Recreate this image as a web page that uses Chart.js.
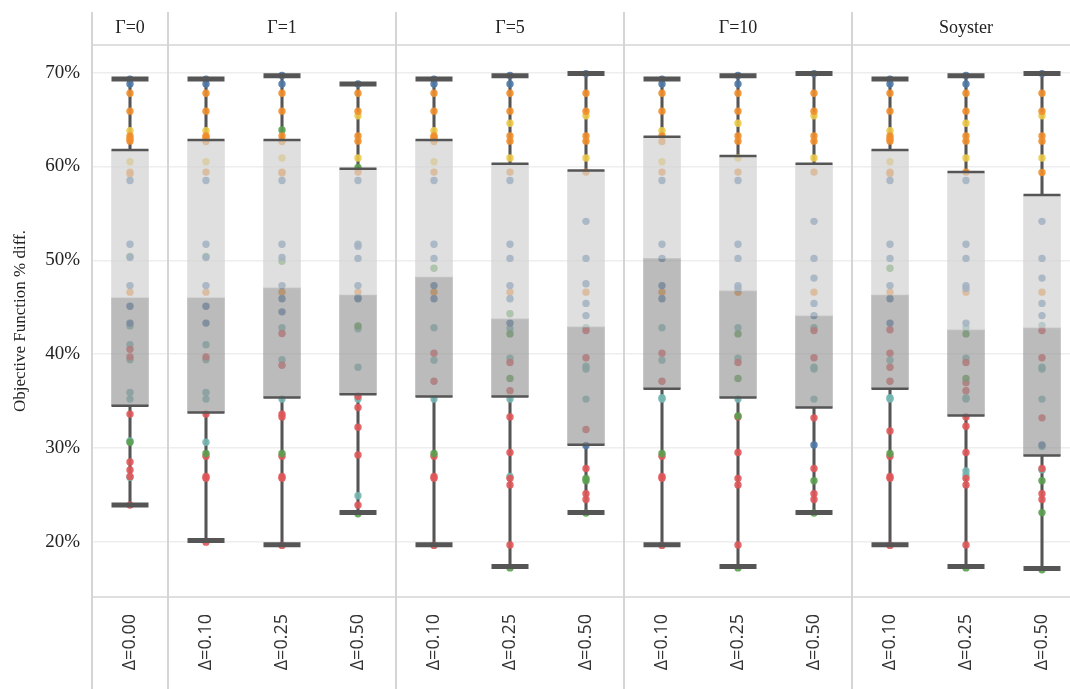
<!DOCTYPE html>
<html>
<head>
<meta charset="utf-8">
<script src="https://cdn.jsdelivr.net/npm/chart.js@4"></script>
<style>
  html, body { margin: 0; padding: 0; background: #fff; overflow: hidden; }
  canvas { display: block; }
</style>
</head>
<body>
<canvas id="myChart" width="1080" height="689"></canvas>
<script>
// panels and columns
const gammaLabels = ['Γ=0', 'Γ=1', 'Γ=5', 'Γ=10', 'Soyster'];
const gammaSpans = [1, 3, 3, 3, 3];
const deltaLabels = ['Δ=0.00', 'Δ=0.10', 'Δ=0.25', 'Δ=0.50', 'Δ=0.10', 'Δ=0.25', 'Δ=0.50',
    'Δ=0.10', 'Δ=0.25', 'Δ=0.50', 'Δ=0.10', 'Δ=0.25', 'Δ=0.50'];
const yTicks = [20, 30, 40, 50, 60, 70];

// box plot stats per column (%)
const whiskerHigh = [69.33, 69.33, 69.68, 68.8, 69.33, 69.68, 69.9, 69.33, 69.68, 69.9, 69.33, 69.68, 69.9];
const upperQuartile = [61.76, 62.82, 62.82, 59.77, 62.82, 60.3, 59.56, 63.18, 61.12, 60.3, 61.76, 59.41, 56.96];
const medians = [46.0, 46.0, 47.06, 46.3, 48.2, 43.75, 42.9, 50.2, 46.73, 44.07, 46.3, 42.58, 42.79];
const lowerQuartile = [34.5, 33.77, 35.36, 35.72, 35.47, 35.47, 30.32, 36.3, 35.36, 34.3, 36.3, 33.45, 29.18];
const whiskerLow = [23.92, 20.12, 19.66, 23.1, 19.66, 17.35, 23.1, 19.66, 17.35, 23.1, 19.66, 17.35, 17.14];

// individual instances, one list per column
const blueDots = [
    [69.3, 68.8, 58.5, 51.7, 50.3, 47.3, 45.1, 43.3],
    [69.3, 68.8, 58.5, 51.7, 50.3, 47.3, 45.1, 43.3],
    [69.7, 68.8, 58.5, 51.7, 50.3, 47.3, 45.9, 44.5],
    [68.8, 58.5, 51.7, 51.5, 50.2, 47.3, 46.0, 45.9],
    [69.3, 68.8, 58.5, 51.7, 50.2, 47.3, 45.9],
    [69.7, 68.8, 58.5, 51.7, 50.2, 47.3, 45.9, 43.3],
    [69.9, 54.15, 50.2, 47.5, 45.4, 44.1, 30.25],
    [69.3, 68.8, 58.5, 51.7, 50.2, 47.3, 45.9],
    [69.7, 68.8, 58.5, 51.7, 50.2, 47.3, 47.0],
    [69.9, 54.15, 50.2, 48.1, 45.4, 44.1, 30.3],
    [69.3, 68.8, 58.5, 51.7, 50.2, 47.3, 45.9, 43.3],
    [69.7, 68.8, 58.5, 51.7, 50.2, 47.3, 47.0, 43.3],
    [69.9, 54.15, 50.2, 48.1, 45.4, 44.1, 30.3],
];
const orangeDots = [
    [67.8, 65.9, 63.25, 62.95, 62.7, 59.4, 59.2, 46.6],
    [67.8, 65.9, 63.25, 63.1, 62.65, 59.4, 46.6],
    [67.8, 65.9, 63.25, 62.65, 59.4, 59.3, 46.6],
    [67.8, 65.9, 63.25, 62.7, 59.4, 46.6],
    [67.8, 65.9, 63.25, 63.1, 62.65, 59.4, 46.6],
    [67.8, 65.9, 63.25, 62.7, 59.4, 46.6],
    [67.8, 65.9, 63.25, 62.7, 59.4, 46.6],
    [67.8, 65.9, 63.25, 62.65, 59.4, 46.6],
    [67.8, 65.9, 63.25, 62.7, 59.4, 46.6],
    [67.8, 65.9, 63.25, 62.7, 59.4, 46.6],
    [67.8, 65.9, 63.25, 62.95, 62.7, 59.4, 59.25, 46.6],
    [67.8, 65.9, 63.25, 62.7, 59.4, 46.6],
    [67.8, 65.9, 63.25, 62.7, 59.35, 46.6],
];
const yellowDots = [
    [63.8, 60.5], [63.8, 60.5], [60.9], [65.4, 60.9], [63.8, 60.5], [64.6, 60.9], [65.4, 60.9],
    [63.8, 60.5], [64.6, 60.9], [65.4, 60.9], [63.8, 60.5], [64.6, 60.9], [65.4, 60.9],
];
const greenDots = [
    [50.4, 30.6],
    [50.4, 29.4],
    [63.9, 49.9, 29.4],
    [59.9, 43.0, 22.97],
    [49.15, 29.4],
    [44.3, 42.15, 37.4, 17.2],
    [26.75, 26.5, 23.05],
    [29.4],
    [42.15, 37.4, 33.4, 17.2],
    [26.5, 23.05],
    [49.15, 29.4],
    [42.15, 37.4, 17.2],
    [26.5, 23.1, 17.0],
];
const redDots = [
    [40.5, 39.7, 33.6, 28.5, 27.65, 26.95, 23.9],
    [39.7, 33.6, 29.1, 26.95, 26.75, 19.95],
    [42.2, 38.8, 33.6, 33.3, 29.1, 26.95, 26.75, 19.6],
    [35.5, 34.3, 32.2, 29.25, 23.9],
    [40.1, 37.1, 29.1, 26.95, 26.75, 19.6],
    [39.1, 36.1, 33.3, 29.5, 26.75, 26.05, 19.65],
    [42.5, 39.6, 31.95, 27.8, 25.1, 24.5],
    [40.1, 37.1, 29.1, 26.95, 26.75, 19.6],
    [39.1, 33.3, 29.5, 26.75, 26.05, 19.65],
    [42.5, 39.6, 33.2, 27.8, 25.1, 24.5],
    [42.6, 40.1, 38.6, 37.1, 31.8, 29.1, 26.95, 26.75, 19.6],
    [39.1, 36.95, 36.1, 33.3, 32.3, 29.5, 26.75, 26.05, 19.65],
    [42.5, 39.6, 33.2, 27.8, 25.1, 24.5],
];
const tealDots = [
    [43.0, 41.0, 39.4, 35.9, 35.2, 30.75, 26.85],
    [41.0, 39.4, 35.9, 35.2, 30.6],
    [42.8, 39.4, 35.2],
    [42.7, 38.6, 35.2, 24.9],
    [42.8, 39.35, 35.2],
    [42.7, 39.55, 35.2, 26.95],
    [42.8, 38.7, 38.4, 35.2],
    [42.8, 39.35, 35.35, 35.2],
    [42.8, 39.55, 35.2],
    [42.8, 38.6, 38.4, 35.2],
    [39.35, 35.35, 35.2],
    [42.8, 39.55, 35.35, 35.2, 27.55, 27.1],
    [43.05, 38.6, 38.4, 35.2, 30.15, 27.65],
];

// unique keys so repeated Δ labels get their own slot
const columnKeys = deltaLabels.map((d, i) => i + ':' + d);

const dotSeries = [
    { name: 'blue', color: 'rgba(78, 121, 167, 0.9)', values: blueDots },
    { name: 'orange', color: 'rgba(242, 142, 43, 0.9)', values: orangeDots },
    { name: 'yellow', color: 'rgba(237, 201, 72, 0.9)', values: yellowDots },
    { name: 'green', color: 'rgba(89, 161, 79, 0.9)', values: greenDots },
    { name: 'red', color: 'rgba(225, 87, 89, 0.9)', values: redDots },
    { name: 'teal', color: 'rgba(118, 183, 178, 0.9)', values: tealDots },
];

const BOX_W = 37;
const INK = '#555555';

const pointsAt = vals => columnKeys.map((key, i) => ({ x: key, y: vals[i] }));

const markLine = (label, vals, width) => ({
    type: 'line',
    label: label,
    data: pointsAt(vals),
    showLine: false,
    pointStyle: 'line',
    pointRadius: BOX_W / 2,
    pointBorderWidth: width,
    pointBorderColor: INK,
    pointBackgroundColor: INK,
    order: 1,
});

const datasets = [
    {
        type: 'bar',
        label: 'whisker top',
        data: columnKeys.map((_, i) => [upperQuartile[i], whiskerHigh[i]]),
        backgroundColor: INK,
        barThickness: 2.4,
        grouped: false,
        order: 6,
    },
    {
        type: 'bar',
        label: 'whisker bottom',
        data: columnKeys.map((_, i) => [whiskerLow[i], lowerQuartile[i]]),
        backgroundColor: INK,
        barThickness: 2.4,
        grouped: false,
        order: 6,
    },
    ...dotSeries.map(s => ({
        type: 'line',
        label: s.name,
        data: s.values.flatMap((vals, i) => vals.map(v => ({ x: columnKeys[i], y: v }))),
        showLine: false,
        pointRadius: 3.7,
        pointBorderWidth: 0,
        pointBackgroundColor: s.color,
        order: 4,
    })),
    {
        type: 'bar',
        label: 'upper box',
        data: columnKeys.map((_, i) => [medians[i], upperQuartile[i]]),
        backgroundColor: 'rgba(208, 208, 208, 0.68)',
        barThickness: BOX_W,
        grouped: false,
        order: 3,
    },
    {
        type: 'bar',
        label: 'lower box',
        data: columnKeys.map((_, i) => [lowerQuartile[i], medians[i]]),
        backgroundColor: 'rgba(148, 148, 148, 0.64)',
        barThickness: BOX_W,
        grouped: false,
        order: 3,
    },
    markLine('q3', upperQuartile, 2.5),
    markLine('q1', lowerQuartile, 2.5),
    markLine('max', whiskerHigh, 5),
    markLine('min', whiskerLow, 5),
];

// panel header, separators and frame lines
const panelFrame = {
    id: 'panelFrame',
    afterDraw(chart) {
        const { ctx, chartArea: area } = chart;
        const colW = (area.right - area.left) / columnKeys.length;
        ctx.save();
        ctx.strokeStyle = '#d5d5d5';
        ctx.lineWidth = 1.5;
        ctx.beginPath();
        ctx.moveTo(area.left, area.top);
        ctx.lineTo(chart.width, area.top);
        ctx.moveTo(area.left, area.bottom);
        ctx.lineTo(chart.width, area.bottom);
        ctx.stroke();

        ctx.lineWidth = 2;
        ctx.fillStyle = '#222';
        ctx.font = '18px "Liberation Serif"';
        ctx.textAlign = 'center';
        ctx.textBaseline = 'middle';
        let col = 0;
        gammaLabels.forEach((label, g) => {
            const x0 = area.left + col * colW;
            col += gammaSpans[g];
            const x1 = area.left + col * colW;
            ctx.beginPath();
            ctx.moveTo(x0, 12);
            ctx.lineTo(x0, chart.height);
            ctx.stroke();
            ctx.fillText(label, (x0 + x1) / 2, 28);
        });
        ctx.restore();
    }
};

const ctx = document.getElementById('myChart');
new Chart(ctx, {
    type: 'bar',
    data: {
        labels: columnKeys,
        datasets: datasets,
    },
    options: {
        responsive: false,
        animation: false,
        events: [],
        layout: {
            autoPadding: false,
            padding: { top: 45, right: 0, bottom: 0, left: 0 },
        },
        plugins: {
            legend: { display: false },
            tooltip: { enabled: false },
        },
        scales: {
            x: {
                type: 'category',
                afterFit: axis => {
                    axis.height = 92;
                    axis.paddingLeft = 0;
                    axis.paddingRight = 0;
                },
                grid: { display: false },
                border: { display: false },
                ticks: {
                    autoSkip: false,
                    maxRotation: 90,
                    minRotation: 90,
                    padding: 9,
                    color: '#333',
                    font: { family: 'Open Sans', size: 18 },
                    callback: (val, index) => deltaLabels[index],
                },
            },
            y: {
                min: 14.1,
                max: 72.95,
                afterBuildTicks: axis => { axis.ticks = yTicks.map(v => ({ value: v })); },
                afterFit: axis => {
                    axis.width = 92;
                    axis.paddingTop = 0;
                    axis.paddingBottom = 0;
                },
                grid: { color: '#eeeeee', lineWidth: 1.5, drawTicks: false },
                border: { display: false },
                ticks: {
                    padding: 12,
                    color: '#222',
                    font: { family: 'Liberation Serif', size: 19 },
                    callback: val => `${val}%`,
                },
                title: {
                    display: true,
                    text: 'Objective Function % diff.',
                    color: '#222',
                    font: { family: 'Liberation Serif', size: 17 },
                    padding: { top: 10, bottom: 0 },
                },
            },
        },
    },
    plugins: [panelFrame],
});
</script>
</body>
</html>
